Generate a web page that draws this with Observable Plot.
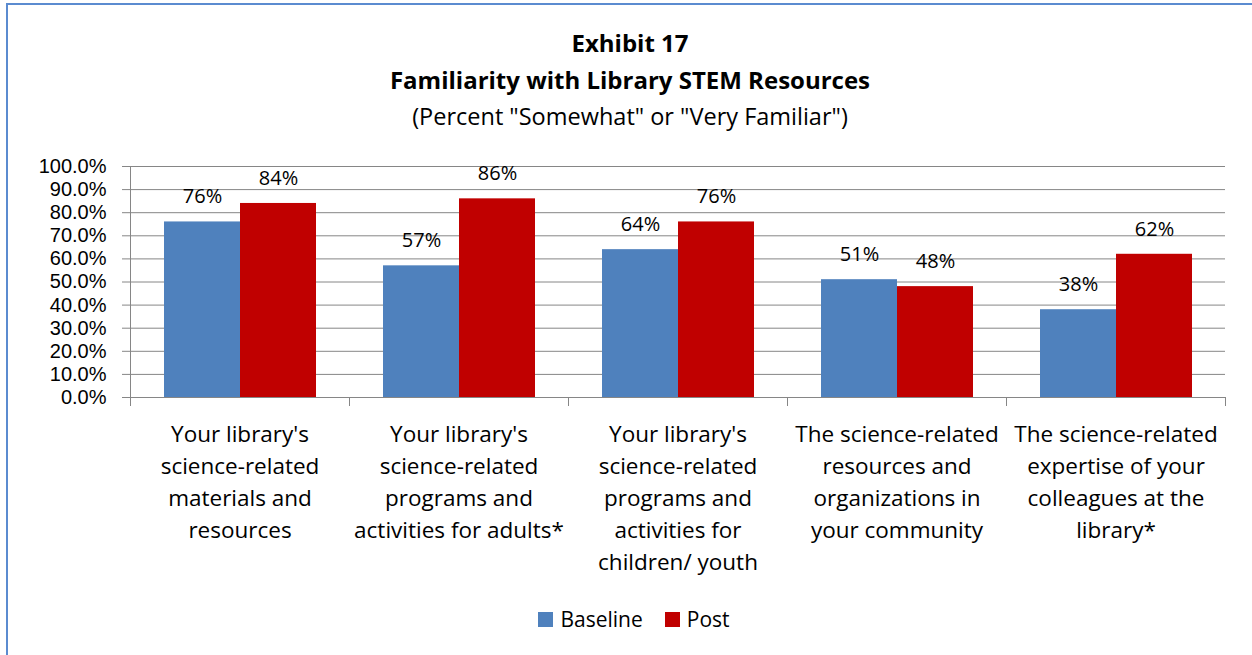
<!DOCTYPE html>
<html><head><meta charset="utf-8">
<script src="https://cdn.jsdelivr.net/npm/d3@7"></script>
<script src="https://cdn.jsdelivr.net/npm/@observablehq/plot@0.6"></script>
<style>
body{margin:0;background:#fff;font-family:"Open Sans",sans-serif;color:#000;}
#wrap{position:relative;width:1252px;height:655px;overflow:hidden;background:#fff;}
#border{position:absolute;left:6px;top:3px;width:1400px;height:800px;border-left:2px solid #5b8bd0;border-top:2px solid #5b8bd0;}
.t{position:absolute;left:0;width:1260px;text-align:center;white-space:nowrap;line-height:1;}
#t1{top:31px;font-size:24px;font-weight:bold;}
#t2{top:68px;font-size:24px;font-weight:bold;}
#t3{top:105px;font-size:23.5px;}
#chart{position:absolute;left:0;top:140px;}
#legend{position:absolute;top:604px;left:0;width:1268px;display:flex;justify-content:center;gap:22px;font-size:21px;line-height:30px;}
.li{display:flex;align-items:center;gap:7px;}
.sw{width:15px;height:15px;display:inline-block;}
</style></head>
<body>
<div id="wrap">
<div id="border"></div>
<div class="t" id="t1">Exhibit 17</div>
<div class="t" id="t2">Familiarity with Library STEM Resources</div>
<div class="t" id="t3">(Percent "Somewhat" or "Very Familiar")</div>
<div id="chart"></div>
<div id="legend"></div>
</div>
<script>
const categories = [
  "Your library's\nscience-related\nmaterials and\nresources",
  "Your library's\nscience-related\nprograms and\nactivities for adults*",
  "Your library's\nscience-related\nprograms and\nactivities for\nchildren/ youth",
  "The science-related\nresources and\norganizations in\nyour community",
  "The science-related\nexpertise of your\ncolleagues at the\nlibrary*"
];
const seriesNames = ["Baseline", "Post"];
const baseline = [76, 57, 64, 51, 38];
const post = [84, 86, 76, 48, 62];
const colors = ["#4F81BD", "#C00000"];
const yTicks = [0,10,20,30,40,50,60,70,80,90,100];

const rows = categories.flatMap((c, i) => [
  {cat: c, series: seriesNames[0], value: baseline[i]},
  {cat: c, series: seriesNames[1], value: post[i]}
]);
const gray = "#868686";

const chart = Plot.plot({
  width: 1252, height: 450,
  marginTop: 26, marginBottom: 193, marginLeft: 128, marginRight: 26,
  style: {fontFamily: "'Open Sans', sans-serif", fontSize: "20px", color: "#000", background: "transparent", overflow: "visible"},
  fx: {domain: categories, padding: 0, label: null},
  x: {domain: seriesNames, paddingInner: 0, paddingOuter: 0.44, axis: null},
  y: {domain: [0, 100], label: null},
  color: {domain: seriesNames, range: colors},
  marks: [
    Plot.gridY(yTicks, {stroke: gray, strokeOpacity: 1}),
    Plot.barY(rows, {fx: "cat", x: "series", y: "value", fill: "series"}),
    Plot.text(rows, {fx: "cat", x: "series", y: "value", text: d => d.value + "%", dy: -25, fontSize: 20, fill: "#000"}),
    Plot.axisY(yTicks, {tickSize: 8, tickPadding: 16, tickFormat: d => d.toFixed(1) + "%", fontSize: 20, fontFamily: "'Liberation Sans', Arial, sans-serif", stroke: gray, fill: "#000", label: null}),
    Plot.axisFx({anchor: "bottom", tickSize: 0, tickPadding: 22, fontSize: 22.5, lineHeight: 1.42, fill: "#000", label: null}),
    Plot.frame({anchor: "left", facet: "super", stroke: gray, strokeOpacity: 1}),
    Plot.frame({anchor: "left", insetTop: 231, insetBottom: -8, stroke: gray, strokeOpacity: 1}),
    Plot.frame({anchor: "right", insetTop: 231, insetBottom: -8, stroke: gray, strokeOpacity: 1}),
    Plot.ruleY([0], {stroke: gray})
  ]
});
document.getElementById("chart").appendChild(chart);

const legend = document.getElementById("legend");
seriesNames.forEach((s, i) => {
  const item = document.createElement("div");
  item.className = "li";
  item.innerHTML = `<span class="sw" style="background:${colors[i]}"></span><span>${s}</span>`;
  legend.appendChild(item);
});
</script>
</body></html>
